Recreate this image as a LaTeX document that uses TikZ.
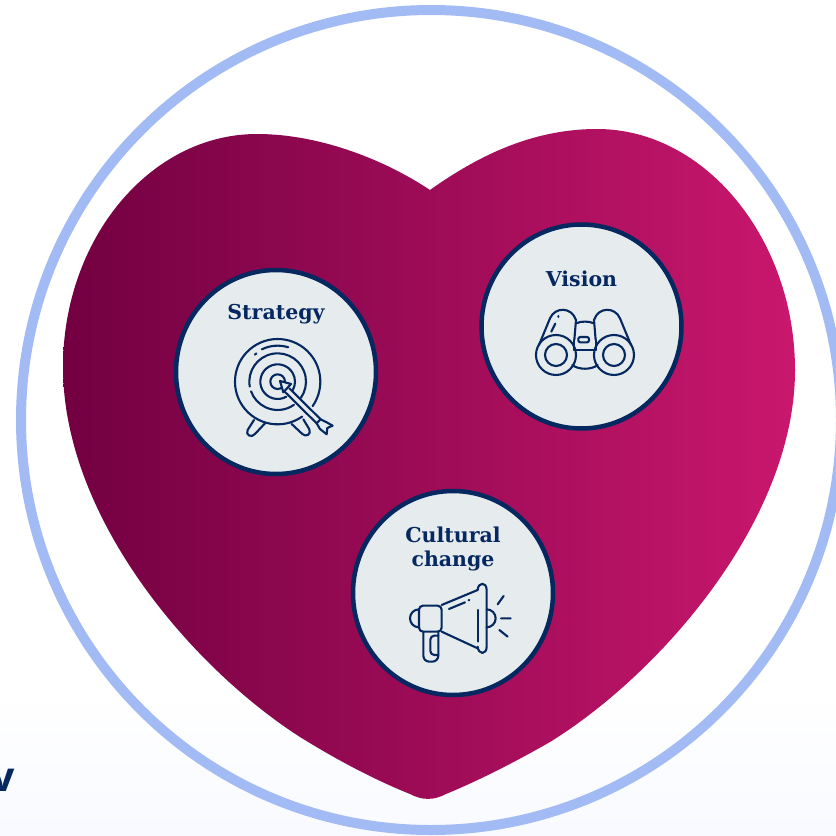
\documentclass[tikz,border=0pt]{standalone}
\usepackage{fontspec}
\usetikzlibrary{shapes.geometric}
\setmainfont{DejaVu Serif}
\newfontfamily\sansf{Open Sans}
\definecolor{navy}{HTML}{04285F}
\definecolor{disc}{HTML}{E6EBEE}
\definecolor{ringblue}{HTML}{A3BBF5}
\definecolor{heartL}{HTML}{720041}
\definecolor{heartR}{HTML}{C9176D}
\definecolor{bgblue}{HTML}{F8FAFF}
\tikzset{
  badge/.style={ellipse,draw=navy,fill=disc,line width=4.5pt,minimum width=200pt,minimum height=204pt,inner sep=0pt},
  lab/.style={text=navy,font=\bfseries\fontsize{20.5}{22}\selectfont,inner sep=0pt,anchor=center},
  ico/.style={draw=navy,line width=2.1pt,line cap=round,line join=round},
  zoomframe/.style={x=0.3333pt,y=-0.3333pt}
}
\begin{document}
\begin{tikzpicture}[x=1pt,y=-1pt]
\useasboundingbox (0,0) rectangle (836,836);
\clip (0,0) rectangle (836,836);
\fill[white] (0,0) rectangle (836,690);
\shade[top color=white,bottom color=bgblue] (0,690) rectangle (836,836);
\node[text=navy,font=\sansf\bfseries\fontsize{41}{42}\selectfont,anchor=base,inner sep=0pt] (cutw) at (3,791) {v};
\draw[ringblue,line width=10pt] (431,420) circle [radius=410];
% heart
\shade[left color=heartL,right color=heartR]
 (430,190) .. controls (385,160) and (320,134) .. (257,134)
 .. controls (150,134) and (63,239) .. (63,367)
 .. controls (63,517) and (191,667) .. (300,737)
 .. controls (337,760) and (375,780) .. (410,794)
 .. controls (422,800.5) and (434,800.5) .. (446,794)
 .. controls (480,780) and (515,762) .. (550,742)
 .. controls (660,674) and (795,520) .. (795,370)
 .. controls (795,240) and (706,129) .. (597,129)
 .. controls (530,129) and (475,158) .. (430,190) -- cycle;
\node[badge] (strategy) at (276,372) {};
\node[badge] (vision) at (581.5,326.5) {};
\node[badge] (culture) at (453,593) {};
\node[lab] (tstrategy) at (276,314) {Strategy};
\node[lab] (tvision) at (581.5,279) {Vision};
\node[lab] (tcultural) at (453,535) {Cultural};
\node[lab] (tchange) at (453,561) {change};
% target icon
\begin{scope}[shift={(170,260)},zoomframe]
 \draw[ico] (323,365)+(55:128) arc[start angle=55,end angle=395,radius=128];
 \draw[ico] (323,365)+(55:85) arc[start angle=55,end angle=160,radius=85];
 \draw[ico] (323,365)+(170:85) arc[start angle=170,end angle=395,radius=85];
 \draw[ico] (323,365)+(60:52) arc[start angle=60,end angle=390,radius=52];
 \draw[ico] (323,365) circle[radius=22];
 \draw[ico] (323,365)+(244:108) arc[start angle=244,end angle=287,radius=108];
 \draw[ico] (323,365)+(230:106) arc[start angle=230,end angle=233,radius=106];
 \draw[ico,fill=disc] (330,363) -- (363,372) -- (340,397) -- cycle;
 \draw[ico] (358,385) -- (452,478) (345,396) -- (440,490);
 \draw[ico,fill=disc] (452,478) -- (470,487) -- (488,497) -- (472,504) -- (470,523) -- (450,507) -- (440,490) -- cycle;
 \draw[ico] (252,480) -- (233,510) .. controls (225,525) and (245,535) .. (255,522) -- (285,490);
 \draw[ico] (365,492) -- (397,522) .. controls (408,533) and (425,522) .. (418,508) -- (400,478);
\end{scope}
% binoculars icon
\begin{scope}[shift={(475,215)},zoomframe]
 \draw[ico] (243,420) circle[radius=60] (243,420) circle[radius=33];
 \draw[ico] (417,420) circle[radius=60] (417,420) circle[radius=33];
 \draw[ico] (192,390) -- (225,310) .. controls (240,275) and (290,275) .. (303,315) -- (298,375);
 \draw[ico] (468,390) -- (435,310) .. controls (420,275) and (370,275) .. (357,315) -- (362,375);
 \draw[ico] (303,325) .. controls (320,318) and (340,318) .. (357,325);
 \draw[ico] (298,405) -- (362,405);
 \draw[ico] (298,375) -- (298,405) (362,375) -- (362,405);
 \draw[ico] (292,450) .. controls (310,465) and (350,465) .. (368,450);
 \draw[ico] (241,326) -- (229,350) (250,303) -- (250,306);
 \draw[ico,rounded corners=2pt] (310,366) rectangle (342,382);
\end{scope}
% megaphone icon
\begin{scope}[shift={(345,485)},zoomframe]
 \draw[ico] (290,360) -- (398,315) (290,440) -- (398,490);
 \draw[ico,rounded corners=4pt] (222,362) -- (290,362) -- (290,440) -- (222,440) -- cycle;
 \draw[ico] (222,373) arc[start angle=270,end angle=90,radius=27];
 \draw[ico] (398,315) .. controls (400,290) and (425,290) .. (425,315) -- (425,485) .. controls (425,510) and (400,510) .. (398,485);
 \draw[ico] (398,375) -- (398,470);
 \draw[ico] (425,373) arc[start angle=-90,end angle=90,radius=27];
 \draw[ico,rounded corners=6pt] (235,440) -- (235,530) -- (280,530) -- (280,440);
 \draw[ico,rounded corners=4pt] (280,452) -- (256,452) -- (256,510) -- (280,510);
 \draw[ico] (458,358) -- (476,333) (468,400) -- (497,400) (463,435) -- (488,455);
 \draw[ico] (312,372) -- (360,352) (371,346) -- (373,345);
\end{scope}
\end{tikzpicture}
\end{document}
